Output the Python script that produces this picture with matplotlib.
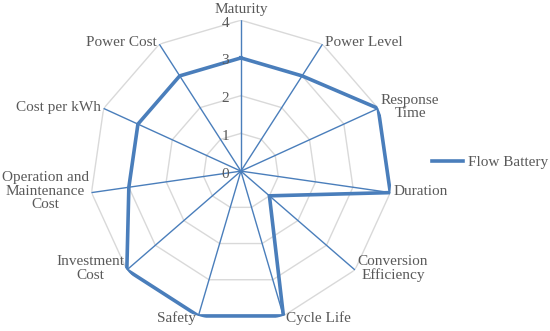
import numpy as np
import matplotlib
matplotlib.use('Agg')
import matplotlib.pyplot as plt

categories = ['Maturity', 'Power Level', 'Response\nTime', 'Duration',
              'Conversion\nEfficiency', 'Cycle Life', 'Safety',
              'Investment\nCost', 'Operation and\nMaintenance\nCost',
              'Cost per kWh', 'Power Cost']
values = [3, 3, 4, 4, 1, 4, 4, 4, 3, 3, 3]
ticks = [0, 1, 2, 3, 4]
series_name = 'Flow Battery'

blue = '#4A7EBB'
gray_text = '#595959'
plt.rcParams['font.family'] = ['Liberation Serif', 'DejaVu Serif']

n = len(categories)
angles = np.linspace(0, 2 * np.pi, n, endpoint=False)
closed = np.append(angles, angles[0])

fig = plt.figure(figsize=(5.5, 3.31), dpi=100)
ax = fig.add_axes([0.1635, 0.027, 0.549, 0.912], projection='polar')
ax.set_theta_zero_location('N')
ax.set_theta_direction(-1)
ax.set_ylim(0, 4)
ax.axis('off')

# polygon grid
for t in ticks[1:]:
    ax.plot(closed, [t] * (n + 1), color='#D9D9D9', lw=1, zorder=1)
# spokes
for a in angles:
    ax.plot([a, a], [0, 4], color=blue, lw=1, zorder=2)

# data
ax.plot(closed, values + values[:1], color=blue, lw=2.6, zorder=3,
        solid_joinstyle='miter', label=series_name)

# tick labels, just left of the top spoke
for t in ticks:
    ax.annotate(str(t), (0, t), xytext=(-8.5, -2.2), textcoords='offset points',
                ha='right', va='center', fontsize=11, color=gray_text)

# category labels
for a, lab in zip(angles, categories):
    x, y = np.sin(a), np.cos(a)
    if abs(x) < 0.1:
        ha = 'center'
    elif x > 0:
        ha = 'left'
    else:
        ha = 'right'
    va = 'bottom' if y > 0.95 else 'center'
    dx = 2 * np.sign(x) if abs(x) >= 0.1 else 0
    dy = 3 if y > 0.95 else (-1.5 if y < -0.8 else 1)
    ax.annotate(lab, (a, 4), xytext=(dx, dy), textcoords='offset points',
                ha=ha, va=va, fontsize=11, color=gray_text,
                linespacing=1.05, multialignment='center')

fig.legend(loc='center left', bbox_to_anchor=(0.775, 0.51), frameon=False,
           fontsize=11, handlelength=2.0, handletextpad=0.3,
           borderaxespad=0, labelcolor=gray_text)

fig.savefig('out.png', dpi=100)
